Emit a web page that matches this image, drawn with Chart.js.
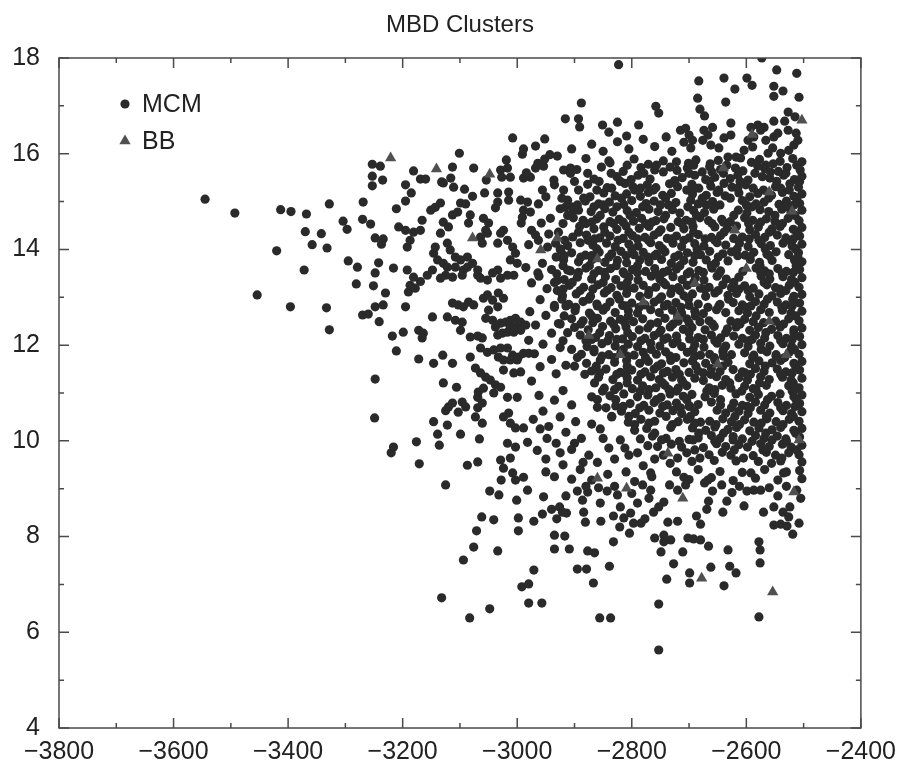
<!DOCTYPE html>
<html>
<head>
<meta charset="utf-8">
<title>MBD Clusters</title>
<script src="https://cdn.jsdelivr.net/npm/chart.js@4.4.1/dist/chart.umd.min.js"></script>
<style>
  html, body { margin: 0; padding: 0; background: #fff; }
  #wrap { width: 905px; height: 766px; }
</style>
</head>
<body>
<div id="wrap"><canvas id="mbdChart" width="905" height="766"></canvas></div>
<script>
const chartTitle = 'MBD Clusters';
const seriesNames = ['MCM', 'BB'];
const xTickValues = [-3800, -3600, -3400, -3200, -3000, -2800, -2600, -2400];
const yTickValues = [4, 6, 8, 10, 12, 14, 16, 18];

// MCM, sparse western tail (x < -3100)
const mcmFar = [
  [-3545,15.05],[-3493,14.76],[-3454,13.05],[-3420,13.97],[-3413,14.83],[-3396,12.80],[-3395,14.79],[-3372,13.57],
  [-3370,14.37],[-3368,14.74],[-3358,14.10],[-3342,14.33],[-3333,12.78],[-3332,14.03],[-3328,14.95],[-3328,12.32],
  [-3304,14.59],[-3297,14.42],[-3295,13.76],[-3281,13.28],[-3279,13.63],[-3270,14.63],[-3270,12.63],[-3269,14.99],
  [-3260,12.65],[-3256,14.53],[-3253,15.78],[-3253,15.53],[-3253,15.33],[-3251,13.24],[-3249,10.48],[-3248,14.24],
  [-3248,13.51],[-3248,12.80],[-3248,11.29],[-3242,13.72],[-3241,12.49],[-3239,15.74],[-3237,14.11],[-3235,15.45],
  [-3234,14.22],[-3234,12.84],[-3230,13.09],[-3220,9.75],[-3218,12.19],[-3216,13.61],[-3216,9.87],[-3211,14.85],
  [-3211,11.88],[-3207,14.47],[-3199,12.27],[-3195,15.35],[-3195,15.01],[-3195,14.40],[-3195,12.80],[-3192,14.05],
  [-3192,13.57],[-3190,13.11],[-3187,14.19],[-3187,13.25],[-3185,15.18],[-3181,15.64],[-3181,14.36],[-3181,13.42],
  [-3178,13.19],[-3176,9.98],[-3172,12.31],[-3172,11.71],[-3171,9.52],[-3169,15.47],[-3169,14.40],[-3169,13.33],
  [-3166,14.61],[-3166,12.15],[-3164,12.25],[-3160,15.47],[-3157,13.46],[-3151,14.82],[-3148,13.57],[-3148,12.59],
  [-3146,13.92],[-3146,11.62],[-3146,10.40],[-3143,14.88],[-3143,14.05],[-3139,13.78],[-3139,10.14],[-3136,9.91],
  [-3134,14.97],[-3134,14.34],[-3134,13.40],[-3132,15.41],[-3132,6.72],[-3130,11.79],[-3129,15.39],[-3129,14.57],
  [-3129,13.71],[-3129,11.21],[-3125,13.46],[-3125,10.63],[-3125,9.08],[-3122,14.13],[-3122,13.63],[-3122,12.59],
  [-3122,10.33],[-3120,14.47],[-3120,10.71],[-3117,13.99],[-3116,15.49],[-3113,15.72],[-3113,14.72],[-3113,13.42],
  [-3113,12.88],[-3113,11.62],[-3113,10.79],[-3111,15.30],[-3108,13.84],[-3108,13.63],[-3108,12.52],[-3106,11.12],
  [-3104,14.78],[-3103,12.84],[-3103,10.60],[-3101,16.01]
];

// MCM, x from -3100 to -2950
const mcmWest = [
  [-3099,14.97],[-3099,13.78],[-3099,12.31],[-3099,10.14],[-3096,13.46],[-3096,12.48],[-3096,10.81],[-3094,13.57],
  [-3094,12.80],[-3094,7.51],[-3092,15.26],[-3090,14.95],[-3090,10.71],[-3087,13.84],[-3087,13.63],[-3087,9.49],
  [-3085,14.55],[-3085,12.90],[-3083,6.30],[-3082,14.72],[-3082,12.17],[-3082,11.75],[-3078,15.11],[-3078,13.71],
  [-3076,15.70],[-3076,12.84],[-3076,7.78],[-3073,11.52],[-3073,10.50],[-3071,8.12],[-3069,13.57],[-3069,13.46],
  [-3069,12.19],[-3069,10.91],[-3069,10.69],[-3069,9.56],[-3068,11.02],[-3066,10.04],[-3064,14.26],[-3064,13.40],
  [-3064,11.94],[-3064,11.42],[-3062,8.41],[-3061,14.13],[-3061,12.15],[-3061,10.79],[-3061,10.37],[-3059,14.65],
  [-3059,12.98],[-3059,11.10],[-3057,15.18],[-3055,14.40],[-3055,12.56],[-3055,11.33],[-3054,15.45],[-3052,14.34],
  [-3052,13.36],[-3052,13.05],[-3052,11.85],[-3050,14.55],[-3050,12.73],[-3048,8.95],[-3048,6.49],[-3047,11.27],
  [-3043,13.51],[-3043,12.94],[-3043,12.52],[-3041,11.90],[-3041,11.00],[-3041,8.35],[-3038,14.87],[-3038,12.38],
  [-3038,11.17],[-3034,15.18],[-3034,14.99],[-3034,14.13],[-3034,13.57],[-3034,12.80],[-3034,12.21],[-3034,7.70],
  [-3033,13.09],[-3033,11.75],[-3032,8.87],[-3029,15.66],[-3029,14.34],[-3029,13.40],[-3029,12.46],[-3029,11.94],
  [-3029,11.12],[-3029,9.60],[-3028,9.18],[-3027,15.51],[-3026,12.25],[-3024,14.40],[-3024,12.98],[-3024,11.69],
  [-3024,11.48],[-3024,10.50],[-3024,9.43],[-3020,12.48],[-3019,15.87],[-3017,15.70],[-3017,14.19],[-3017,13.46],
  [-3017,12.27],[-3017,11.94],[-3017,10.91],[-3017,9.95],[-3015,15.20],[-3015,15.03],[-3015,10.58],[-3012,15.51],
  [-3012,13.78],[-3012,12.52],[-3012,12.38],[-3012,11.69],[-3012,10.37],[-3012,9.64],[-3008,16.33],[-3008,14.05],
  [-3008,11.79],[-3008,9.33],[-3006,13.46],[-3006,12.27],[-3006,11.42],[-3003,13.92],[-3003,12.56],[-3003,12.38],
  [-3003,10.27],[-3003,9.87],[-3003,9.18],[-3001,8.76],[-3000,13.71],[-3000,11.69],[-3000,10.91],[-2998,11.75],
  [-2998,8.39],[-2998,8.12],[-2994,15.03],[-2994,12.48],[-2994,12.31],[-2994,11.44],[-2993,14.55],[-2992,6.95],
  [-2991,15.99],[-2991,14.67],[-2989,16.10],[-2989,15.49],[-2989,14.82],[-2989,11.83],[-2989,10.27],[-2989,9.24],
  [-2985,13.62],[-2985,12.42],[-2984,15.60],[-2982,14.99],[-2982,9.97],[-2982,8.97],[-2980,14.10],[-2980,12.10],
  [-2980,11.83],[-2980,7.01],[-2980,6.61],[-2978,12.70],[-2977,15.51],[-2977,14.78],[-2975,14.40],[-2975,13.30],
  [-2975,11.25],[-2971,8.32],[-2971,7.30],[-2970,11.82],[-2968,16.16],[-2968,15.70],[-2968,14.30],[-2968,12.42],
  [-2964,15.80],[-2964,13.51],[-2963,14.95],[-2963,14.19],[-2962,13.44],[-2962,10.95],[-2960,12.95],[-2960,11.55],
  [-2958,14.55],[-2957,6.61],[-2956,15.24],[-2956,13.71],[-2956,8.47],[-2955,12.02],[-2955,10.62],[-2954,15.74],
  [-2954,8.83],[-2952,16.31],[-2952,15.89],[-2950,15.10],[-2950,12.62],[-2950,9.62]
];

// MCM, medium density band round the core (-2950 to -2720)
const mcmMid = [
  [-2948,13.18],[-2947,14.05],[-2945,14.32],[-2945,10.30],[-2943,15.98],[-2942,14.65],[-2940,13.58],[-2940,12.25],
  [-2940,11.70],[-2940,8.57],[-2935,15.35],[-2935,12.83],[-2935,10.85],[-2935,8.03],[-2935,7.74],[-2933,14.13],
  [-2932,11.40],[-2932,9.95],[-2931,8.37],[-2930,13.35],[-2930,15.95],[-2928,12.45],[-2926,8.62],[-2925,14.85],
  [-2925,11.95],[-2925,10.50],[-2924,13.99],[-2921,8.51],[-2920,11.05],[-2920,9.50],[-2919,15.66],[-2919,15.24],
  [-2919,13.78],[-2917,8.01],[-2916,14.88],[-2915,11.58],[-2915,10.18],[-2914,8.49],[-2912,15.03],[-2912,13.57],
  [-2909,7.74],[-2907,15.70],[-2907,15.59],[-2905,16.10],[-2905,10.75],[-2905,9.82],[-2902,14.82],[-2898,10.40],
  [-2895,7.32],[-2890,9.40],[-2888,10.05],[-2886,8.76],[-2884,8.51],[-2881,8.30],[-2880,15.90],[-2879,7.32],
  [-2877,8.93],[-2877,7.70],[-2875,9.70],[-2870,16.20],[-2870,9.18],[-2870,10.92],[-2867,7.03],[-2865,7.66],
  [-2860,9.55],[-2860,10.70],[-2858,9.02],[-2856,6.30],[-2855,10.25],[-2854,8.32],[-2850,16.05],[-2843,8.95],
  [-2842,9.30],[-2840,15.85],[-2840,9.85],[-2839,7.38],[-2837,6.30],[-2835,10.50],[-2832,8.43],[-2832,7.89],
  [-2830,9.05],[-2825,16.25],[-2825,8.87],[-2821,8.20],[-2820,10.02],[-2814,8.39],[-2810,9.35],[-2805,16.10],
  [-2805,9.70],[-2804,8.07],[-2802,8.49],[-2800,8.90],[-2797,8.28],[-2795,9.15],[-2784,8.28],[-2781,9.08],
  [-2780,16.30],[-2780,9.48],[-2777,8.37],[-2767,8.97],[-2765,9.25],[-2762,8.51],[-2760,16.15],[-2760,9.62],
  [-2760,7.97],[-2753,8.62],[-2753,6.59],[-2753,5.63],[-2749,7.68],[-2744,8.72],[-2744,8.03],[-2744,7.89],
  [-2740,16.35],[-2739,7.11],[-2737,8.30],[-2734,9.08],[-2732,7.93],[-2730,16.05],[-2727,7.43],
  [-2948,10.05],[-2925,9.75],[-2900,9.95],[-2885,9.55],[-2870,10.35],[-2850,10.05],[-2830,9.62],[-2812,9.85],
  [-2790,9.75],[-2772,9.90],[-2905,9.20],[-2880,9.05],[-2950,9.35],[-2965,9.80],[-2972,10.45],[-2960,10.25],
  [-2935,9.25],[-2915,8.85],[-2895,8.95],[-2855,8.70],[-2820,8.62],[-2790,8.70],[-2770,8.80]
];

// MCM, sparse top fringe (y above ~16)
const mcmTop = [
  [-2888,17.06],[-2823,17.86],[-2916,16.73],[-2893,16.73],[-2891,16.56],[-2851,16.60],[-2840,16.45],[-2825,16.66],
  [-2809,16.37],[-2788,16.60],[-2758,16.99],[-2753,16.85],[-2715,16.49],[-2706,16.53],[-2700,16.39],[-2694,16.28],
  [-2685,17.16],[-2683,17.52],[-2681,16.93],[-2676,16.28],[-2674,16.49],[-2673,16.79],[-2667,16.39],[-2662,16.18],
  [-2659,16.55],[-2648,16.12],[-2639,17.58],[-2639,16.33],[-2636,17.08],[-2632,15.93],[-2627,16.64],[-2627,16.39],
  [-2620,17.35],[-2618,15.93],[-2610,15.91],[-2604,16.07],[-2599,17.58],[-2597,16.28],[-2592,16.55],[-2590,17.43],
  [-2589,16.14],[-2587,16.35],[-2580,16.60],[-2575,16.49],[-2573,18.00],[-2569,16.55],[-2566,16.28],[-2562,16.01],
  [-2554,16.12],[-2552,17.41],[-2552,17.20],[-2552,16.68],[-2552,16.35],[-2547,17.75],[-2545,16.43],[-2540,16.01],
  [-2536,17.31],[-2533,16.68],[-2527,16.87],[-2527,16.49],[-2526,16.07],[-2517,16.18],[-2515,16.77],[-2513,16.43],
  [-2512,17.68],[-2510,16.28],[-2508,17.18],[-2709,16.24],[-2697,16.12]
];

// MCM, dense core, upper half
const mcmCoreUpper = [
  [-2503,15.83],[-2519,15.90],[-2541,15.84],[-2553,15.79],[-2577,15.88],[-2591,15.82],[-2649,15.86],[-2663,15.79],
  [-2688,15.87],[-2701,15.80],[-2722,15.83],[-2745,15.85],[-2771,15.78],[-2796,15.89],[-2838,15.81],
  [-2506,15.66],[-2529,15.71],[-2544,15.63],[-2568,15.69],[-2580,15.74],[-2606,15.64],[-2619,15.70],[-2645,15.67],
  [-2664,15.73],[-2677,15.62],[-2703,15.70],[-2721,15.65],[-2733,15.72],[-2760,15.66],[-2784,15.71],[-2815,15.63],
  [-2853,15.72],[-2896,15.67],
  [-2503,15.53],[-2516,15.46],[-2535,15.55],[-2559,15.49],[-2572,15.52],[-2597,15.45],[-2615,15.55],[-2628,15.48],
  [-2655,15.51],[-2671,15.46],[-2690,15.55],[-2712,15.50],[-2725,15.44],[-2768,15.47],[-2789,15.55],[-2801,15.46],
  [-2826,15.52],[-2866,15.47],[-2936,15.45],
  [-2509,15.30],[-2524,15.37],[-2549,15.31],[-2588,15.28],[-2601,15.35],[-2625,15.30],[-2639,15.38],[-2662,15.32],
  [-2683,15.28],[-2695,15.36],[-2720,15.31],[-2734,15.37],[-2758,15.29],[-2773,15.35],[-2798,15.31],[-2812,15.38],
  [-2843,15.29],[-2877,15.36],
  [-2503,15.16],[-2517,15.11],[-2537,15.19],[-2556,15.13],[-2580,15.17],[-2594,15.10],[-2613,15.18],[-2637,15.12],
  [-2651,15.19],[-2670,15.13],[-2694,15.16],[-2731,15.17],[-2746,15.13],[-2771,15.19],[-2785,15.11],[-2809,15.16],
  [-2829,15.12],[-2849,15.18],[-2873,15.10],
  [-2507,14.96],[-2530,15.01],[-2543,14.94],[-2569,14.99],[-2583,14.95],[-2607,15.02],[-2646,14.93],[-2659,15.00],
  [-2684,14.95],[-2697,15.03],[-2723,14.98],[-2736,14.93],[-2761,15.01],[-2775,14.96],[-2800,15.02],[-2814,14.94],
  [-2839,14.99],[-2858,14.95],[-2881,15.01],
  [-2503,14.82],[-2522,14.77],[-2538,14.84],[-2561,14.79],[-2576,14.83],[-2599,14.76],[-2614,14.82],[-2657,14.84],
  [-2673,14.77],[-2692,14.81],[-2716,14.76],[-2729,14.83],[-2754,14.79],[-2770,14.84],[-2792,14.77],[-2808,14.81],
  [-2833,14.78],[-2847,14.85],[-2871,14.79],[-2893,14.82],
  [-2508,14.60],[-2527,14.65],[-2550,14.59],[-2565,14.64],[-2589,14.61],[-2603,14.66],[-2628,14.58],[-2643,14.63],
  [-2666,14.60],[-2681,14.66],[-2705,14.61],[-2719,14.58],[-2744,14.64],[-2758,14.60],[-2783,14.65],[-2797,14.59],
  [-2822,14.63],[-2838,14.58],[-2861,14.64],[-2885,14.61],[-2902,14.66],
  [-2503,14.46],[-2518,14.42],[-2541,14.48],[-2555,14.43],[-2579,14.47],[-2594,14.41],[-2617,14.49],[-2633,14.44],
  [-2655,14.47],[-2693,14.48],[-2709,14.43],[-2732,14.46],[-2749,14.41],[-2770,14.48],[-2787,14.44],[-2810,14.49],
  [-2826,14.42],[-2849,14.47],[-2866,14.43],[-2891,14.48],
  [-2507,14.28],[-2531,14.24],[-2546,14.30],[-2568,14.25],[-2584,14.31],[-2607,14.26],[-2622,14.23],[-2645,14.29],
  [-2661,14.25],[-2684,14.31],[-2700,14.24],[-2722,14.28],[-2738,14.23],[-2761,14.30],[-2777,14.25],[-2799,14.29],
  [-2815,14.23],[-2838,14.28],[-2856,14.24],[-2879,14.30],[-2903,14.26],
  [-2503,14.11],[-2520,14.07],[-2536,14.13],[-2558,14.08],[-2574,14.12],[-2597,14.06],[-2612,14.13],[-2636,14.09],
  [-2651,14.14],[-2674,14.07],[-2690,14.12],[-2713,14.06],[-2728,14.13],[-2752,14.08],[-2767,14.14],[-2789,14.07],
  [-2805,14.11],[-2829,14.06],[-2844,14.13],[-2868,14.09],[-2890,14.14],[-2912,14.08],
  [-2509,13.93],[-2526,13.89],[-2548,13.95],[-2564,13.90],[-2587,13.94],[-2602,13.88],[-2626,13.95],[-2641,13.91],
  [-2664,13.96],[-2680,13.89],[-2703,13.93],[-2718,13.88],[-2742,13.95],[-2757,13.90],[-2780,13.94],[-2796,13.89],
  [-2819,13.96],[-2835,13.91],[-2857,13.94],[-2881,13.88],[-2905,13.93],
  [-2503,13.74],[-2516,13.78],[-2555,13.77],[-2577,13.73],[-2593,13.79],[-2632,13.76],[-2654,13.71],[-2670,13.78],
  [-2693,13.73],[-2709,13.77],[-2731,13.71],[-2748,13.79],[-2770,13.74],[-2786,13.78],[-2809,13.72],[-2825,13.77],
  [-2847,13.73],[-2869,13.79],[-2893,13.74],
  [-2507,13.58],[-2530,13.54],[-2545,13.60],[-2568,13.55],[-2583,13.61],[-2606,13.54],[-2645,13.55],[-2660,13.61],
  [-2683,13.56],[-2699,13.53],[-2722,13.59],[-2737,13.55],[-2760,13.60],[-2776,13.54],[-2799,13.58],[-2815,13.53],
  [-2837,13.60],[-2858,13.56],[-2880,13.61],[-2907,13.55],
  [-2503,13.41],[-2521,13.37],[-2536,13.43],[-2559,13.38],[-2574,13.44],[-2613,13.42],[-2635,13.38],[-2651,13.44],
  [-2674,13.36],[-2689,13.41],[-2712,13.37],[-2728,13.43],[-2751,13.38],[-2766,13.44],[-2789,13.36],[-2805,13.42],
  [-2828,13.37],[-2846,13.43],[-2870,13.38],[-2895,13.42],[-2918,13.37],
  [-2508,13.21],[-2525,13.25],[-2549,13.20],[-2564,13.26],[-2588,13.19],[-2603,13.24],[-2626,13.20],[-2641,13.26],
  [-2665,13.21],[-2680,13.19],[-2703,13.25],[-2719,13.20],[-2741,13.26],[-2758,13.21],[-2780,13.25],[-2796,13.19],
  [-2819,13.24],[-2836,13.20],[-2859,13.26],[-2884,13.21],[-2909,13.25],
  [-2503,13.06],[-2517,13.02],[-2540,13.08],[-2555,13.03],[-2578,13.07],[-2594,13.01],[-2617,13.08],[-2632,13.04],
  [-2655,13.09],[-2671,13.02],[-2694,13.07],[-2709,13.03],[-2732,13.08],[-2748,13.01],[-2771,13.06],[-2786,13.02],
  [-2809,13.08],[-2826,13.04],[-2848,13.09],[-2872,13.02],[-2897,13.07],[-2921,13.03],
  [-2507,12.88],[-2531,12.84],[-2546,12.90],[-2569,12.85],[-2584,12.91],[-2607,12.84],[-2623,12.89],[-2646,12.85],
  [-2684,12.86],[-2700,12.83],[-2723,12.89],[-2738,12.85],[-2761,12.90],[-2777,12.84],[-2800,12.88],[-2816,12.83],
  [-2838,12.90],[-2861,12.86],[-2885,12.91],[-2910,12.85],
  [-2503,12.71],[-2522,12.67],[-2537,12.73],[-2560,12.68],[-2575,12.74],[-2598,12.67],[-2613,12.72],[-2636,12.68],
  [-2652,12.74],[-2675,12.66],[-2690,12.71],[-2713,12.67],[-2729,12.73],[-2752,12.68],[-2767,12.74],[-2790,12.67],
  [-2806,12.72],[-2829,12.68],[-2850,12.73],[-2874,12.67],[-2899,12.72],
  [-2508,12.51],[-2526,12.55],[-2549,12.50],[-2588,12.49],[-2603,12.54],[-2627,12.50],[-2665,12.51],[-2681,12.49],
  [-2704,12.55],[-2719,12.50],[-2742,12.56],[-2781,12.55],[-2797,12.49],[-2820,12.54],[-2837,12.50],[-2860,12.56],
  [-2885,12.51],[-2905,12.55]
];

// MCM, dense core, lower half
const mcmCoreLower = [
  [-2503,12.36],[-2517,12.32],[-2541,12.38],[-2556,12.33],[-2579,12.37],[-2594,12.31],[-2618,12.38],[-2633,12.34],
  [-2656,12.39],[-2672,12.32],[-2695,12.37],[-2710,12.33],[-2733,12.38],[-2749,12.31],[-2772,12.36],[-2787,12.32],
  [-2810,12.38],[-2828,12.34],[-2851,12.39],[-2876,12.32],[-2900,12.37],
  [-2507,12.18],[-2530,12.14],[-2545,12.20],[-2568,12.15],[-2584,12.21],[-2607,12.14],[-2622,12.19],[-2645,12.15],
  [-2661,12.21],[-2684,12.16],[-2699,12.13],[-2722,12.19],[-2738,12.15],[-2761,12.20],[-2777,12.14],[-2799,12.18],
  [-2816,12.13],[-2839,12.20],[-2863,12.16],[-2890,12.21],
  [-2503,12.01],[-2521,11.97],[-2536,12.03],[-2559,11.98],[-2575,12.04],[-2597,11.97],[-2613,12.02],[-2636,11.98],
  [-2651,12.04],[-2674,11.96],[-2690,12.01],[-2713,11.97],[-2728,12.03],[-2751,11.98],[-2767,12.04],[-2790,11.97],
  [-2806,12.02],[-2829,11.98],[-2852,12.03],[-2878,11.97],
  [-2508,11.81],[-2525,11.85],[-2548,11.80],[-2564,11.86],[-2587,11.79],[-2603,11.84],[-2626,11.80],[-2641,11.86],
  [-2664,11.81],[-2680,11.79],[-2703,11.85],[-2741,11.86],[-2757,11.81],[-2780,11.85],[-2796,11.79],[-2819,11.84],
  [-2840,11.80],[-2866,11.86],[-2888,11.81],
  [-2503,11.66],[-2517,11.62],[-2540,11.68],[-2555,11.63],[-2578,11.67],[-2594,11.61],[-2632,11.64],[-2655,11.69],
  [-2671,11.62],[-2694,11.67],[-2709,11.63],[-2732,11.68],[-2748,11.61],[-2771,11.66],[-2786,11.62],[-2809,11.68],
  [-2830,11.64],[-2855,11.69],[-2879,11.62],
  [-2507,11.48],[-2531,11.44],[-2546,11.50],[-2569,11.45],[-2584,11.51],[-2607,11.44],[-2623,11.49],[-2646,11.45],
  [-2661,11.51],[-2684,11.46],[-2700,11.43],[-2723,11.49],[-2738,11.45],[-2761,11.50],[-2777,11.44],[-2800,11.48],
  [-2820,11.43],[-2845,11.50],[-2870,11.46],
  [-2503,11.31],[-2522,11.27],[-2537,11.33],[-2560,11.28],[-2575,11.34],[-2598,11.27],[-2613,11.32],[-2636,11.28],
  [-2652,11.34],[-2675,11.26],[-2690,11.31],[-2713,11.27],[-2729,11.33],[-2752,11.28],[-2767,11.34],[-2790,11.27],
  [-2808,11.32],[-2833,11.28],[-2858,11.33],
  [-2508,11.11],[-2526,11.15],[-2565,11.16],[-2588,11.09],[-2603,11.14],[-2627,11.10],[-2642,11.16],[-2665,11.11],
  [-2704,11.15],[-2719,11.10],[-2742,11.16],[-2758,11.11],[-2781,11.15],[-2799,11.09],[-2823,11.14],[-2848,11.10],
  [-2503,10.96],[-2517,10.92],[-2541,10.98],[-2556,10.93],[-2579,10.97],[-2594,10.91],[-2618,10.98],[-2656,10.99],
  [-2672,10.92],[-2695,10.97],[-2710,10.93],[-2733,10.98],[-2749,10.91],[-2772,10.96],[-2790,10.92],[-2814,10.98],
  [-2838,10.94],
  [-2507,10.78],[-2530,10.74],[-2545,10.80],[-2568,10.75],[-2584,10.81],[-2607,10.74],[-2622,10.79],[-2645,10.75],
  [-2661,10.81],[-2684,10.76],[-2699,10.73],[-2722,10.79],[-2738,10.75],[-2761,10.80],[-2779,10.74],[-2803,10.78],
  [-2828,10.73],
  [-2503,10.61],[-2521,10.57],[-2536,10.63],[-2559,10.58],[-2575,10.64],[-2597,10.57],[-2613,10.62],[-2636,10.58],
  [-2651,10.64],[-2690,10.61],[-2713,10.57],[-2728,10.63],[-2751,10.58],[-2770,10.64],[-2794,10.57],[-2818,10.62],
  [-2508,10.41],[-2525,10.45],[-2548,10.40],[-2564,10.46],[-2587,10.39],[-2603,10.44],[-2626,10.40],[-2641,10.46],
  [-2664,10.41],[-2680,10.39],[-2703,10.45],[-2719,10.40],[-2760,10.41],[-2784,10.45],[-2806,10.39],
  [-2503,10.26],[-2517,10.22],[-2540,10.28],[-2555,10.23],[-2578,10.27],[-2594,10.21],[-2617,10.28],[-2632,10.24],
  [-2655,10.29],[-2671,10.22],[-2694,10.27],[-2732,10.28],[-2774,10.26],[-2795,10.22],
  [-2507,10.08],[-2531,10.04],[-2546,10.10],[-2569,10.05],[-2584,10.11],[-2607,10.04],[-2623,10.09],[-2646,10.05],
  [-2661,10.11],[-2684,10.06],[-2700,10.03],[-2740,10.05],[-2764,10.10],[-2785,10.04],
  [-2503,9.91],[-2522,9.87],[-2537,9.93],[-2560,9.88],[-2575,9.94],[-2598,9.87],[-2613,9.92],[-2636,9.88],
  [-2652,9.94],[-2675,9.86],[-2713,9.87],[-2731,9.93],[-2755,9.88],
  [-2508,9.71],[-2526,9.75],[-2549,9.70],[-2565,9.76],[-2588,9.69],[-2627,9.70],[-2642,9.76],[-2665,9.71],
  [-2704,9.75],[-2745,9.70],
  [-2503,9.56],[-2540,9.58],[-2556,9.53],[-2579,9.57],[-2618,9.58],[-2656,9.59],[-2695,9.57],[-2733,9.53],
  [-2507,9.38],[-2530,9.35],[-2568,9.40],[-2607,9.34],[-2646,9.36],[-2684,9.40],[-2722,9.35],[-2767,9.33],
  [-2709,9.24],[-2667,9.18],[-2592,9.33],[-2535,9.33],
  [-2503,9.21],[-2545,9.18],[-2584,9.22],[-2623,9.17],[-2661,9.23],[-2700,9.19]
];

// MCM, dots that sit between the core rows
const mcmCoreFill = [
  [-2512,15.76],[-2566,15.76],[-2634,15.76],[-2692,15.76],[-2757,15.76],[-2808,15.76],
  [-2531,15.59],[-2585,15.59],[-2640,15.59],[-2700,15.59],[-2779,15.59],[-2836,15.59],[-2877,15.59],
  [-2507,15.42],[-2547,15.42],[-2611,15.42],[-2664,15.42],[-2725,15.40],[-2820,15.42],[-2857,15.42],[-2900,15.42],
  [-2525,15.24],[-2570,15.24],[-2648,15.24],[-2704,15.24],[-2762,15.24],[-2795,15.24],[-2861,15.24],[-2893,15.24],
  [-2512,15.07],[-2561,15.07],[-2628,15.07],[-2677,15.07],[-2741,15.07],[-2818,15.07],[-2884,15.07],[-2922,15.07],
  [-2531,14.89],[-2590,14.89],[-2655,14.89],[-2702,14.89],[-2781,14.89],[-2826,14.89],[-2866,14.89],[-2905,14.89],
  [-2515,14.71],[-2550,14.71],[-2622,14.71],[-2687,14.71],[-2741,14.71],[-2803,14.71],[-2855,14.71],[-2912,14.71],
  [-2537,14.54],[-2596,14.54],[-2660,14.54],[-2713,14.54],[-2776,14.54],[-2832,14.54],[-2880,14.54],[-2920,14.54],
  [-2512,14.36],[-2560,14.36],[-2639,14.36],[-2692,14.36],[-2753,14.36],[-2805,14.36],[-2847,14.36],[-2893,14.36],[-2928,14.36],
  [-2525,14.19],[-2578,14.19],[-2655,14.19],[-2709,14.19],[-2771,14.19],[-2824,14.19],[-2876,14.19],[-2917,14.19],
  [-2514,14.01],[-2567,14.01],[-2616,14.01],[-2686,14.01],[-2746,14.01],[-2800,14.01],[-2861,14.01],[-2925,14.01],
  [-2510,13.84],[-2594,13.84],[-2649,13.84],[-2725,13.84],[-2772,13.84],[-2840,13.84],[-2889,13.84],[-2932,13.84],
  [-2513,13.66],[-2576,13.66],[-2661,13.66],[-2716,13.66],[-2790,13.66],[-2827,13.66],[-2874,13.66],[-2920,13.66],
  [-2537,13.49],[-2560,13.49],[-2648,13.49],[-2703,13.49],[-2758,13.49],[-2813,13.49],[-2866,13.49],[-2931,13.49],
  [-2515,13.31],[-2569,13.31],[-2622,13.31],[-2692,13.31],[-2745,13.31],[-2808,13.31],[-2850,13.31],[-2904,13.31],[-2935,13.31],
  [-2531,13.14],[-2597,13.14],[-2649,13.14],[-2716,13.14],[-2770,13.14],[-2843,13.14],[-2890,13.14],[-2930,13.14],
  [-2519,12.96],[-2563,12.96],[-2631,12.96],[-2701,12.96],[-2752,12.96],[-2822,12.96],[-2875,12.96],[-2922,12.96],
  [-2538,12.79],[-2600,12.79],[-2667,12.79],[-2714,12.79],[-2787,12.79],[-2845,12.79],[-2898,12.79],[-2935,12.79],
  [-2514,12.61],[-2583,12.61],[-2689,12.61],[-2720,12.61],[-2806,12.61],[-2870,12.61],[-2918,12.61],
  [-2535,12.44],[-2611,12.44],[-2659,12.44],[-2728,12.44],[-2767,12.44],[-2832,12.44],[-2889,12.44],[-2925,12.44],
  [-2517,12.26],[-2566,12.26],[-2636,12.26],[-2700,12.26],[-2752,12.26],[-2807,12.26],[-2856,12.26],[-2912,12.26],
  [-2540,12.09],[-2597,12.09],[-2655,12.09],[-2721,12.09],[-2784,12.09],[-2842,12.09],[-2880,12.09],[-2920,12.09],
  [-2516,11.91],[-2574,11.91],[-2640,11.91],[-2693,11.91],[-2766,11.91],[-2815,11.91],[-2866,11.91],[-2905,11.91],
  [-2533,11.74],[-2589,11.74],[-2656,11.74],[-2723,11.74],[-2776,11.74],[-2830,11.74],[-2895,11.74],
  [-2514,11.56],[-2567,11.56],[-2641,11.56],[-2688,11.56],[-2755,11.56],[-2808,11.56],[-2862,11.56],[-2900,11.56],
  [-2540,11.39],[-2593,11.39],[-2662,11.39],[-2717,11.39],[-2784,11.39],[-2826,11.39],[-2882,11.39],
  [-2518,11.21],[-2577,11.21],[-2629,11.21],[-2710,11.21],[-2746,11.21],[-2808,11.21],[-2865,11.21],
  [-2520,11.04],[-2608,11.04],[-2669,11.04],[-2722,11.04],[-2785,11.04],[-2851,11.04],
  [-2513,10.86],[-2563,10.86],[-2645,10.86],[-2704,10.86],[-2757,10.86],[-2828,10.86],[-2860,10.86],
  [-2540,10.69],[-2593,10.69],[-2626,10.69],[-2715,10.69],[-2786,10.69],[-2845,10.69],
  [-2518,10.51],[-2565,10.51],[-2620,10.51],[-2698,10.51],[-2740,10.51],[-2805,10.51],[-2835,10.51],
  [-2536,10.34],[-2612,10.34],[-2653,10.34],[-2729,10.34],[-2795,10.34],
  [-2514,10.16],[-2566,10.16],[-2640,10.16],[-2683,10.16],[-2760,10.16],
  [-2530,9.99],[-2590,9.99],[-2655,9.99],[-2717,9.99],
  [-2512,9.81],[-2571,9.81],[-2621,9.81],[-2690,9.81],
  [-2538,9.64],[-2605,9.64],[-2681,9.64],[-2720,9.64]
];

// MCM, further dots read in the darkest parts of the core
const mcmCoreExtra = [
  [-2558,15.62],[-2660,15.62],[-2745,15.62],
  [-2540,15.28],[-2615,15.28],[-2690,15.28],[-2785,15.28],[-2835,15.28],
  [-2517,14.93],[-2600,14.93],[-2670,14.93],[-2750,14.93],[-2850,14.93],[-2895,14.93],
  [-2575,14.57],[-2640,14.57],[-2695,14.57],[-2765,14.57],[-2815,14.57],[-2870,14.57],
  [-2518,14.22],[-2595,14.22],[-2672,14.22],[-2730,14.22],[-2790,14.22],[-2865,14.22],
  [-2560,13.87],[-2615,13.87],[-2690,13.87],[-2760,13.87],[-2810,13.87],[-2870,13.87],[-2918,13.87],
  [-2518,13.52],[-2575,13.52],[-2675,13.52],[-2745,13.52],[-2790,13.52],[-2848,13.52],[-2893,13.52],
  [-2541,13.17],[-2613,13.17],[-2672,13.17],[-2730,13.17],[-2808,13.17],[-2868,13.17],[-2920,13.17],
  [-2520,12.82],[-2592,12.82],[-2648,12.82],[-2743,12.82],[-2810,12.82],[-2860,12.82],[-2915,12.82],
  [-2570,12.47],[-2615,12.47],[-2700,12.47],[-2755,12.47],[-2812,12.47],[-2868,12.47],
  [-2520,12.12],[-2590,12.12],[-2675,12.12],[-2744,12.12],[-2826,12.12],[-2870,12.12],
  [-2548,11.77],[-2640,11.77],[-2690,11.77],[-2733,11.77],[-2808,11.77],[-2852,11.77],
  [-2520,11.42],[-2602,11.42],[-2675,11.42],[-2745,11.42],[-2812,11.42],[-2856,11.42],
  [-2515,11.07],[-2583,11.07],[-2655,11.07],[-2735,11.07],[-2770,11.07],[-2830,11.07],
  [-2515,10.72],[-2598,10.72],[-2700,10.72],[-2746,10.72],[-2815,10.72],
  [-2574,10.37],[-2690,10.37],[-2770,10.37],
  [-2555,10.02],[-2623,10.02],[-2693,10.02],[-2748,10.02]
];

// MCM, lower fringe (y below ~9.2, east of -2720)
const mcmLow = [
  [-2720,8.97],[-2720,8.32],[-2711,7.68],[-2706,9.08],[-2702,7.97],[-2699,7.24],[-2699,7.03],[-2692,7.95],
  [-2687,8.43],[-2680,8.26],[-2680,7.93],[-2673,9.12],[-2669,8.57],[-2666,8.74],[-2666,7.80],[-2662,7.36],
  [-2659,8.95],[-2643,9.08],[-2641,8.51],[-2639,6.97],[-2634,8.74],[-2632,7.72],[-2629,7.38],[-2625,8.92],
  [-2618,7.24],[-2612,9.05],[-2604,8.64],[-2599,8.95],[-2587,8.97],[-2578,7.89],[-2578,6.32],[-2576,7.72],
  [-2576,7.45],[-2575,8.97],[-2570,8.51],[-2560,9.02],[-2552,8.62],[-2552,8.24],[-2545,8.85],[-2540,8.26],
  [-2536,8.51],[-2530,9.05],[-2529,8.22],[-2526,8.41],[-2524,8.62],[-2519,8.05],[-2512,8.97],[-2508,8.28],
  [-2505,8.80]
];

// BB triangles
const bbPoints = [
  [-3221,15.91],[-3141,15.68],[-3048,15.57],[-3078,14.24],[-2930,14.24],[-2959,13.99],[-2860,9.22],[-2809,9.01],
  [-2508,10.02],[-2737,9.74],[-2711,8.80],[-2678,7.13],[-2554,6.84],[-2503,16.70],[-2517,8.93],[-2640,15.70],
  [-2560,15.20],[-2600,13.60],[-2690,13.30],[-2560,12.50],[-2530,11.80],[-2650,11.60],[-2720,12.60],[-2780,12.90],
  [-2860,13.80],[-2620,14.40],[-2820,11.80],[-2520,14.80],[-2875,12.20],[-2590,16.40]
];

const mcmColor = '#2a2a2a';
const bbColor = '#505050';
const fontFamily = '"Liberation Sans", Arial, Helvetica, sans-serif';
const toXY = ([x, y]) => ({ x, y });
const minusTick = v => (v < 0 ? '\u2212' + Math.abs(v) : String(v));

const mcmData = [...mcmFar, ...mcmWest, ...mcmMid, ...mcmTop, ...mcmCoreUpper, ...mcmCoreLower,
                 ...mcmCoreFill, ...mcmCoreExtra, ...mcmLow].map(toXY);
const bbData = bbPoints.map(toXY);

// frame, inward ticks on all four sides, title and the inset legend
const decor = {
    id: 'decor',
    afterDraw(chart) {
        const { ctx, chartArea: a, scales: { x, y } } = chart;
        ctx.save();
        ctx.strokeStyle = '#4a4a4a';
        ctx.lineWidth = 1.5;
        ctx.strokeRect(a.left, a.top, a.right - a.left, a.bottom - a.top);

        ctx.beginPath();
        for (let v = x.min; v <= x.max; v += 100) {
            const px = x.getPixelForValue(v);
            const len = v % 200 === 0 ? 10 : 5;
            ctx.moveTo(px, a.bottom); ctx.lineTo(px, a.bottom - len);
            ctx.moveTo(px, a.top);    ctx.lineTo(px, a.top + len);
        }
        for (let v = y.min; v <= y.max; v += 1) {
            const py = y.getPixelForValue(v);
            const len = v % 2 === 0 ? 10 : 5;
            ctx.moveTo(a.left, py);  ctx.lineTo(a.left + len, py);
            ctx.moveTo(a.right, py); ctx.lineTo(a.right - len, py);
        }
        ctx.stroke();

        ctx.fillStyle = '#222';
        ctx.textAlign = 'center';
        ctx.textBaseline = 'middle';
        ctx.font = '24px ' + fontFamily;
        ctx.fillText(chartTitle, (a.left + a.right) / 2, a.top - 33);

        const lx = a.left + 66;
        const rows = [
            { name: seriesNames[0], style: 'circle', r: 4.6, color: mcmColor, y: a.top + 46 },
            { name: seriesNames[1], style: 'triangle', r: 6.5, color: bbColor, y: a.top + 83 },
        ];
        ctx.textAlign = 'left';
        ctx.font = '25px ' + fontFamily;
        rows.forEach(row => {
            ctx.fillStyle = row.color;
            Chart.helpers.drawPoint(ctx, { pointStyle: row.style, radius: row.r, borderWidth: 0, rotation: 0 }, lx, row.y);
            ctx.fillStyle = '#222';
            ctx.fillText(row.name, lx + 17, row.y + 1);
        });
        ctx.restore();
    }
};

const ctx = document.getElementById('mbdChart').getContext('2d');

new Chart(ctx, {
    type: 'scatter',
    data: {
        datasets: [
            {
                label: seriesNames[0],
                data: mcmData,
                pointStyle: 'circle',
                pointRadius: 4.6,
                pointBackgroundColor: mcmColor,
                pointBorderWidth: 0,
                order: 1,
            },
            {
                label: seriesNames[1],
                data: bbData,
                pointStyle: 'triangle',
                pointRadius: 6.5,
                pointBackgroundColor: bbColor,
                pointBorderWidth: 0,
                order: 0,
            },
        ],
    },
    options: {
        responsive: false,
        animation: false,
        devicePixelRatio: 1,
        layout: { padding: { top: 58, right: 44, bottom: 0, left: 0 } },
        plugins: {
            legend: { display: false },
            title: { display: false },
            tooltip: { enabled: false },
        },
        scales: {
            x: {
                type: 'linear',
                min: -3800,
                max: -2400,
                afterBuildTicks: s => { s.ticks = xTickValues.map(value => ({ value })); },
                afterFit: s => { s.height = 38; },
                grid: { display: false, drawTicks: false },
                border: { display: false },
                ticks: { callback: minusTick, font: { family: fontFamily, size: 25 }, color: '#222', padding: 9, maxRotation: 0, autoSkip: false },
            },
            y: {
                type: 'linear',
                min: 4,
                max: 18,
                afterBuildTicks: s => { s.ticks = yTickValues.map(value => ({ value })); },
                afterFit: s => { s.width = 59; },
                grid: { display: false, drawTicks: false },
                border: { display: false },
                ticks: { font: { family: fontFamily, size: 25 }, color: '#222', padding: 19, autoSkip: false },
            },
        },
    },
    plugins: [decor],
});
</script>
</body>
</html>
